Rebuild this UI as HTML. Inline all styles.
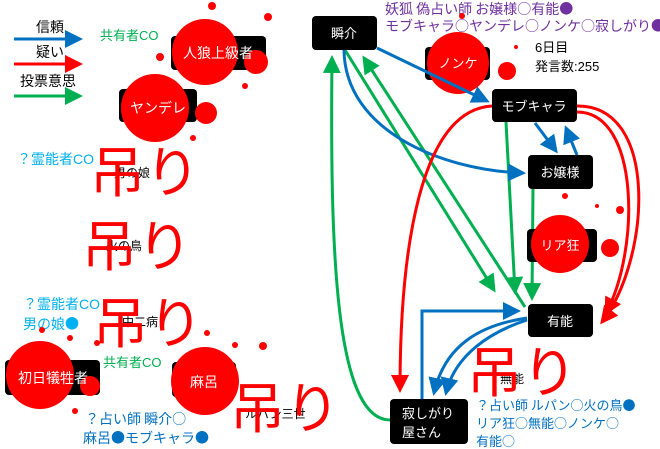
<!DOCTYPE html>
<html><head><meta charset="utf-8"><style>
html,body{margin:0;padding:0;background:#fff;}
svg{display:block;font-family:"Liberation Sans","Noto Sans CJK JP",sans-serif;}
.cjk{font-family:"Noto Sans CJK JP",sans-serif;}
</style></head><body>
<svg width="660" height="449" viewBox="0 0 660 449" xmlns="http://www.w3.org/2000/svg">
<defs>
<marker id="ab" markerWidth="6" markerHeight="6" refX="5" refY="3" orient="auto" markerUnits="strokeWidth"><path d="M0,0 L6,3 L0,6z" fill="#0070c0"/></marker>
<marker id="ar" markerWidth="6" markerHeight="6" refX="5" refY="3" orient="auto" markerUnits="strokeWidth"><path d="M0,0 L6,3 L0,6z" fill="#ff0000"/></marker>
<marker id="ag" markerWidth="6" markerHeight="6" refX="5" refY="3" orient="auto" markerUnits="strokeWidth"><path d="M0,0 L6,3 L0,6z" fill="#00b050"/></marker>
</defs>

<text x="36" y="32" font-size="14">信頼</text>
<line x1="14" y1="39" x2="80" y2="39" stroke="#0070c0" stroke-width="3" marker-end="url(#ab)"/>
<text x="36" y="57" font-size="14">疑い</text>
<line x1="14" y1="64" x2="80" y2="64" stroke="#ff0000" stroke-width="3" marker-end="url(#ar)"/>
<text x="20" y="86" font-size="14">投票意思</text>
<line x1="14" y1="96" x2="80" y2="96" stroke="#00b050" stroke-width="3" marker-end="url(#ag)"/>

<text x="100" y="40" font-size="13" fill="#00b050">共有者CO</text>
<rect x="171" y="36" width="95" height="34" rx="4" fill="#000"/>
<circle cx="205" cy="52" r="33" fill="#f00"/><circle cx="256" cy="62" r="12" fill="#f00"/>
<circle cx="212" cy="6" r="4" fill="#f00"/><circle cx="268" cy="17" r="4" fill="#f00"/><circle cx="160" cy="57" r="4" fill="#f00"/><circle cx="245" cy="86" r="3" fill="#f00"/>
<text x="218" y="58" font-size="14" fill="#fff" text-anchor="middle">人狼上級者</text>

<rect x="119" y="89" width="78" height="33" rx="4" fill="#000"/>
<circle cx="155" cy="108" r="34" fill="#f00"/><circle cx="206" cy="113" r="11" fill="#f00"/><circle cx="193" cy="138" r="3" fill="#f00"/>
<text x="158" y="113" font-size="14" fill="#fff" text-anchor="middle">ヤンデレ</text>

<text x="17" y="164" font-size="14" fill="#00b0f0">？霊能者CO</text>
<text x="114" y="177" font-size="12">男の娘</text>
<text x="90" y="192" font-size="55" fill="#ff0000">吊り</text>

<text x="106" y="250" font-size="12">火の鳥</text>
<text x="82" y="266" font-size="55" fill="#ff0000">吊り</text>

<text x="23" y="309" font-size="14" fill="#00b0f0">？霊能者CO</text>
<text x="23" y="329" font-size="14" fill="#00b0f0" class="cjk">男の娘●</text>
<text x="122" y="326" font-size="12">中二病</text>
<text x="93" y="343" font-size="55" fill="#ff0000">吊り</text>

<rect x="5" y="360" width="95" height="35" rx="4" fill="#000"/>
<circle cx="40" cy="375" r="34" fill="#f00"/><circle cx="90" cy="386" r="10" fill="#f00"/><circle cx="42" cy="330" r="3" fill="#f00"/><circle cx="70" cy="338" r="3" fill="#f00"/><circle cx="97" cy="343" r="3" fill="#f00"/><circle cx="75" cy="411" r="3" fill="#f00"/>
<text x="53" y="383" font-size="14" fill="#fff" text-anchor="middle">初日犠牲者</text>
<text x="103" y="367" font-size="13" fill="#00b050">共有者CO</text>

<rect x="172" y="362" width="64" height="35" rx="4" fill="#000"/>
<circle cx="205" cy="381" r="34" fill="#f00"/><circle cx="207" cy="333" r="3" fill="#f00"/><circle cx="235" cy="345" r="3" fill="#f00"/><circle cx="263" cy="346" r="4" fill="#f00"/>
<text x="204" y="387" font-size="14" fill="#fff" text-anchor="middle">麻呂</text>
<text x="245" y="418" font-size="12">ルパン三世</text>
<text x="230" y="428" font-size="55" fill="#ff0000">吊り</text>

<text x="85" y="424" font-size="14" fill="#0070c0" class="cjk">？占い師 瞬介○</text>
<text x="83" y="443" font-size="14" fill="#0070c0" class="cjk">麻呂●モブキャラ●</text>

<text x="385" y="14" font-size="14" fill="#7030a0" class="cjk">妖狐 偽占い師 お嬢様○有能●</text>
<text x="385" y="31" font-size="14" fill="#7030a0" class="cjk">モブキャラ○ヤンデレ○ノンケ○寂しがり●</text>
<text x="535" y="52" font-size="13">6日目</text>
<text x="535" y="71" font-size="13">発言数:255</text>

<rect x="425" y="47" width="65" height="33" rx="4" fill="#000"/>
<circle cx="458" cy="63" r="31" fill="#f00"/><circle cx="507" cy="71" r="9" fill="#f00"/><circle cx="462" cy="16" r="3" fill="#f00"/><circle cx="516" cy="47" r="2" fill="#f00"/>
<text x="458" y="68" font-size="13" fill="#fff" text-anchor="middle">ノンケ</text>

<path d="M390,420 C335,420 330,250 332,58" fill="none" stroke="#00b050" stroke-width="3" marker-end="url(#ag)"/>
<line x1="345" y1="50" x2="494" y2="290" stroke="#00b050" stroke-width="3" marker-end="url(#ag)"/>
<line x1="525" y1="307" x2="364" y2="58" stroke="#00b050" stroke-width="3" marker-end="url(#ag)"/>
<line x1="506" y1="122" x2="515" y2="292" stroke="#00b050" stroke-width="3" marker-end="url(#ag)"/>
<line x1="533" y1="189" x2="532" y2="298" stroke="#00b050" stroke-width="3" marker-end="url(#ag)"/>

<line x1="377" y1="48" x2="487" y2="101" stroke="#0070c0" stroke-width="3" marker-end="url(#ab)"/>
<path d="M344,50 C345,130 440,170 523,173" fill="none" stroke="#0070c0" stroke-width="3" marker-end="url(#ab)"/>
<line x1="535" y1="123" x2="556" y2="151" stroke="#0070c0" stroke-width="3" marker-end="url(#ab)"/>
<line x1="577" y1="155" x2="566" y2="128" stroke="#0070c0" stroke-width="3" marker-end="url(#ab)"/>
<path d="M422,399 L422,311 L518,311" fill="none" stroke="#0070c0" stroke-width="3" marker-end="url(#ab)"/>
<path d="M527,318 C480,325 445,345 434,393" fill="none" stroke="#0070c0" stroke-width="3" marker-end="url(#ab)"/>
<path d="M527,320 C490,332 455,355 446,393" fill="none" stroke="#0070c0" stroke-width="3" marker-end="url(#ab)"/>

<path d="M492,106 C420,110 400,250 400,390" fill="none" stroke="#ff0000" stroke-width="3" marker-end="url(#ar)"/>
<path d="M577,106 C660,105 650,260 602,322" fill="none" stroke="#ff0000" stroke-width="3" marker-end="url(#ar)"/>
<path d="M577,112 C640,112 640,250 606,313" fill="none" stroke="#ff0000" stroke-width="3" marker-end="url(#ar)"/>

<rect x="312" y="16" width="65" height="34" rx="4" fill="#000"/>
<text x="344" y="38" font-size="13" fill="#fff" text-anchor="middle">瞬介</text>
<rect x="492" y="89" width="85" height="33" rx="4" fill="#000"/>
<text x="534" y="111" font-size="13" fill="#fff" text-anchor="middle">モブキャラ</text>
<rect x="528" y="155" width="65" height="34" rx="4" fill="#000"/>
<text x="560" y="177" font-size="13" fill="#fff" text-anchor="middle">お嬢様</text>
<rect x="527" y="229" width="70" height="33" rx="4" fill="#000"/>
<circle cx="560" cy="244" r="29" fill="#f00"/><circle cx="610" cy="248" r="9" fill="#f00"/><circle cx="565" cy="196" r="3" fill="#f00"/><circle cx="620" cy="210" r="4" fill="#f00"/><circle cx="597" cy="206" r="2" fill="#f00"/>
<text x="560" y="250" font-size="13" fill="#fff" text-anchor="middle">リア狂</text>
<rect x="528" y="304" width="65" height="33" rx="4" fill="#000"/>
<text x="560" y="326" font-size="13" fill="#fff" text-anchor="middle">有能</text>
<rect x="390" y="399" width="78" height="45" rx="4" fill="#000"/>
<text x="402" y="418" font-size="13" fill="#fff">寂しがり</text>
<text x="402" y="437" font-size="13" fill="#fff">屋さん</text>

<text x="500" y="383" font-size="12">無能</text>
<text x="467" y="392" font-size="55" fill="#ff0000">吊り</text>
<text x="476" y="410" font-size="13" fill="#0070c0" class="cjk">？占い師 ルパン○火の鳥●</text>
<text x="476" y="428" font-size="13" fill="#0070c0" class="cjk">リア狂○無能○ノンケ○</text>
<text x="476" y="446" font-size="13" fill="#0070c0" class="cjk">有能○</text>
</svg>
</body></html>
